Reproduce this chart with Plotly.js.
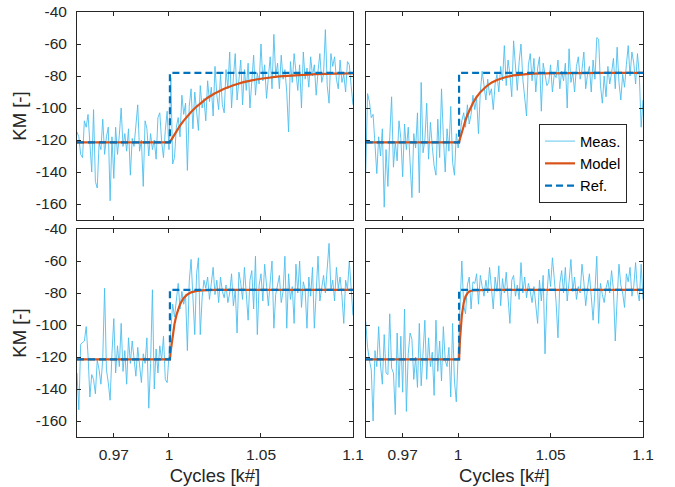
<!DOCTYPE html>
<html><head><meta charset="utf-8">
<script src="https://cdn.plot.ly/plotly-3.0.1.min.js"></script>
<style>html,body{margin:0;padding:0;background:#fff}#chart{width:675px;height:487px}</style>
</head><body><div id="chart"></div>
<script>
const xStart = 0.95, xStep = 0.001, nPts = 151;
const xTickVals = [0.97, 1, 1.05, 1.1];
const xTickText = ['0.97', '1', '1.05', '1.1'];
const yTickVals = [-160, -140, -120, -100, -80, -60, -40];
const yTickText = ['-160', '-140', '-120', '-100', '-80', '-60', '-40'];
const seriesNames = ['Meas.', 'Model', 'Ref.'];

const measTL = [
-115,-118,-129,-131,-108,-112,-104,-126,-140,-101,
-146,-150,-122,-126,-107,-129,-118,-112,-158,-118,
-144,-112,-129,-117,-100,-124,-116,-127,-113,-142,
-119,-124,-112,-98,-127,-120,-149,-108,-113,-130,
-116,-126,-120,-132,-106,-103,-121,-131,-114,-102,
-126,
-81,-135,-131,-112,-106,-118,-92,-104,-97,-139,
-99,-88,-113,-90,-102,-114,-86,-100,-94,-108,
-83,-96,-87,-105,-74,-92,-101,-79,-98,-103,
-76,-88,-65,-100,-81,-66,-95,-84,-70,-98,
-76,-89,-72,-100,-80,-67,-92,-78,-85,-60,
-83,-73,-94,-79,-68,-88,-54,-80,-72,-88,
-67,-82,-76,-90,-115,-71,-84,-66,-79,-89,
-73,-100,-65,-82,-75,-87,-68,-80,-73,-92,
-77,-66,-84,-79,-51,-86,-97,-66,-74,-68,
-82,-88,-70,-84,-79,-90,-71,-73,-86,-98];

const measTR = [
-140,-91,-96,-106,-104,-124,-141,-118,-130,-113,
-162,-126,-149,-118,-93,-137,-121,-133,-108,-119,
-143,-110,-126,-112,-135,-156,-116,-125,-103,-153,
-84,-128,-120,-97,-132,-109,-124,-136,-142,-107,
-131,-88,-118,-140,-113,-127,-99,-134,-142,-116,
-125,
-115,-108,-103,-112,-98,-110,-104,-92,-101,-94,
-116,-90,-77,-86,-95,-82,-92,-88,-101,-85,
-79,-90,-74,-83,-61,-86,-70,-79,-93,-58,
-77,-89,-71,-60,-82,-94,-105,-73,-66,-83,
-69,-90,-75,-68,-102,-72,-80,-86,-84,-73,
-90,-79,-81,-70,-88,-77,-83,-72,-100,-63,
-84,-78,-90,-74,-68,-82,-76,-65,-88,-79,
-74,-90,-70,-82,-56,-57,-86,-97,-80,-93,
-74,-85,-78,-69,-88,-62,-84,-95,-79,-87,
-73,-61,-80,-65,-72,-85,-66,-79,-112,-95];

const measBL = [
-130,-153,-112,-111,-110,-101,-119,-145,-131,-134,
-143,-122,-128,-137,-121,-77,-128,-136,-147,-118,
-96,-130,-113,-126,-99,-129,-116,-137,-108,-124,
-110,-121,-132,-114,-126,-136,-118,-124,-108,-152,
-124,-78,-140,-115,-130,-113,-122,-107,-134,-136,
-119,
-101,-87,-95,-84,-74,-90,-79,-87,-81,-116,
-73,-59,-80,-106,-68,-58,-106,-83,-72,-77,
-70,-84,-74,-64,-81,-72,-86,-70,-79,-83,
-75,-86,-80,-68,-88,-78,-105,-67,-74,-84,
-64,-79,-97,-72,-66,-90,-57,-106,-75,-68,
-85,-62,-78,-88,-73,-60,-102,-81,-75,-69,
-86,-79,-57,-102,-68,-84,-76,-99,-62,-80,
-60,-89,-73,-78,-102,-70,-82,-64,-102,-74,
-57,-85,-77,-69,-80,-66,-49,-78,-72,-85,
-64,-77,-70,-82,-99,-72,-78,-60,-75,-94];

const measBR = [
-98,-114,-122,-128,-160,-116,-126,-101,-125,-137,
-106,-130,-131,-93,-127,-130,-156,-105,-139,-107,
-142,-90,-154,-118,-105,-109,-134,-120,-139,-99,
-138,-115,-97,-134,-108,-126,-117,-144,-97,-129,
-110,-135,-101,-122,-126,-114,-145,-99,-135,-148,
-120,
-95,-60,-88,-93,-75,-70,-90,-73,-74,-68,
-87,-69,-76,-82,-72,-80,-64,-77,-90,-70,
-79,-63,-88,-71,-80,-67,-85,-99,-72,-69,
-82,-75,-84,-61,-80,-70,-83,-74,-79,-86,
-76,-90,-99,-72,-85,-69,-118,-82,-65,-76,
-58,-71,-86,-108,-74,-66,-80,-64,-85,-73,
-59,-79,-70,-84,-76,-80,-62,-73,-88,-77,
-68,-82,-97,-79,-57,-99,-74,-81,-86,-77,
-72,-80,-66,-78,-110,-84,-62,-75,-80,-89,
-68,-73,-64,-82,-76,-61,-79,-85,-62,-84];

const modelX = [0.95,1.0005,1.001,1.002,1.003,1.004,1.005,1.006,1.008,1.010,1.012,1.015,1.018,1.021,1.025,1.030,1.035,1.040,1.045,1.050,1.060,1.070,1.080,1.090,1.100];
const modelTL = [-121.5,-121.5,-120.4,-118.4,-116.4,-114.5,-112.7,-111.0,-107.9,-105.1,-102.5,-99.1,-96.1,-93.6,-90.8,-88.0,-85.8,-84.0,-82.7,-81.7,-80.2,-79.3,-78.8,-78.5,-78.3];
const modelTR = [-121.5,-121.5,-119.2,-114.8,-110.9,-107.5,-104.4,-101.6,-96.9,-93.1,-90.1,-86.7,-84.2,-82.5,-80.9,-79.6,-78.9,-78.5,-78.3,-78.2,-78.1,-78,-78,-78,-78];
const modelBL = [-121.5,-121.5,-115.7,-106.3,-99.3,-94.0,-90.0,-87.0,-83.1,-80.9,-79.6,-78.7,-78.3,-78.1,-78.0,-78,-78,-78,-78,-78,-78,-78,-78,-78,-78];
const modelBR = [-121.5,-121.5,-109.2,-94.0,-86.2,-82.2,-80.2,-79.1,-78.3,-78.1,-78,-78,-78,-78,-78,-78,-78,-78,-78,-78,-78,-78,-78,-78,-78];

const refX = [0.95, 1.0005, 1.0005, 1.1];
const refY = [-121.5, -121.5, -78, -78];

const cycles = Array.from({length: nPts}, (_, i) => +(xStart + i * xStep).toFixed(4));

const C_MEAS = '#4DBEEE', C_MODEL = '#D95319', C_REF = '#0072BD', C_AX = '#262626';
const FONT = 'Liberation Sans, Arial, Helvetica, sans-serif';

const panels = [
  {meas: measTL, model: modelTL, xa: 'x',  ya: 'y',  legend: false},
  {meas: measTR, model: modelTR, xa: 'x2', ya: 'y2', legend: true},
  {meas: measBL, model: modelBL, xa: 'x3', ya: 'y3', legend: false},
  {meas: measBR, model: modelBR, xa: 'x4', ya: 'y4', legend: false}
];

const data = [];
panels.forEach(p => {
  data.push({x: cycles, y: p.meas, xaxis: p.xa, yaxis: p.ya, type: 'scatter', mode: 'lines',
    name: seriesNames[0], showlegend: p.legend, line: {color: C_MEAS, width: 0.9}});
  data.push({x: modelX, y: p.model, xaxis: p.xa, yaxis: p.ya, type: 'scatter', mode: 'lines',
    name: seriesNames[1], showlegend: p.legend, line: {color: C_MODEL, width: 2.2}});
  data.push({x: refX, y: refY, xaxis: p.xa, yaxis: p.ya, type: 'scatter', mode: 'lines',
    name: seriesNames[2], showlegend: p.legend, line: {color: C_REF, width: 2.2, dash: '7px,4px'}});
});

function xAxis(domain, anchor, labels) {
  const a = {domain: domain, anchor: anchor, range: [0.95, 1.1], tickmode: 'array',
    tickvals: xTickVals, ticktext: xTickText, ticks: 'inside', ticklen: 4, tickwidth: 1,
    tickcolor: C_AX, showline: true, linecolor: C_AX, linewidth: 1, mirror: 'ticks',
    showgrid: false, zeroline: false, showticklabels: labels, ticklabelstandoff: 3,
    tickfont: {family: FONT, size: 15.5, color: C_AX}};
  if (labels) a.title = {text: 'Cycles [k#]', font: {family: FONT, size: 18.5, color: C_AX}, standoff: 7};
  return a;
}
function yAxis(domain, anchor, labels) {
  const a = {domain: domain, anchor: anchor, range: [-170, -40], tickmode: 'array',
    tickvals: yTickVals, ticktext: yTickText, ticks: 'inside', ticklen: 4, tickwidth: 1,
    tickcolor: C_AX, showline: true, linecolor: C_AX, linewidth: 1, mirror: 'ticks',
    showgrid: false, zeroline: false, showticklabels: labels, ticklabelstandoff: 6,
    tickfont: {family: FONT, size: 15.5, color: C_AX}};
  if (labels) a.title = {text: 'KM [-]', font: {family: FONT, size: 18.5, color: C_AX}, standoff: 4};
  return a;
}

const xL = [0, 0.4876], xR = [0.5101, 1];
const yT = [0.5106, 1], yB = [0, 0.4894];

const layout = {
  width: 675, height: 487,
  margin: {l: 77, r: 32, t: 12, b: 50, pad: 0},
  paper_bgcolor: '#fff', plot_bgcolor: '#fff',
  font: {family: FONT, color: C_AX},
  xaxis: xAxis(xL, 'y', false),
  yaxis: yAxis(yT, 'x', true),
  xaxis2: xAxis(xR, 'y2', false),
  yaxis2: yAxis(yT, 'x2', false),
  xaxis3: xAxis(xL, 'y3', true),
  yaxis3: yAxis(yB, 'x3', true),
  xaxis4: xAxis(xR, 'y4', true),
  yaxis4: yAxis(yB, 'x4', false),
  legend: {x: 0.8163, y: 0.7365, xanchor: 'left', yanchor: 'top', bgcolor: '#fff',
    bordercolor: C_AX, borderwidth: 1, font: {family: FONT, size: 14.8, color: '#000'},
    tracegroupgap: 0, itemwidth: 30},
  showlegend: true
};

Plotly.newPlot('chart', data, layout, {displayModeBar: false, staticPlot: true});
</script>
</body></html>
